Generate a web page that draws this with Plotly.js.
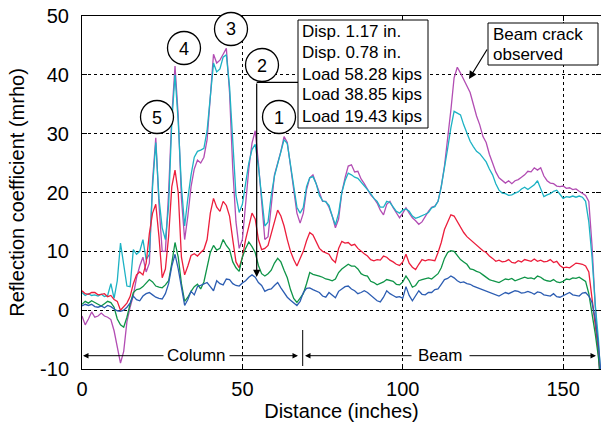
<!DOCTYPE html>
<html>
<head>
<meta charset="utf-8">
<script src="https://cdn.plot.ly/plotly-3.0.1.min.js"></script>
<style>html,body{margin:0;padding:0;background:#fff;}#chart{width:601px;height:433px;}</style>
</head>
<body>
<div id="chart"></div>
<script>
// Distance along the specimen (inches)
const distance = [0,1,2,3,4,5,6,7,8,9,10,11,12,13,14,15,16,17,18,19,20,21,22,23,24,25,26,27,28,29,30,31,32,33,34,35,36,37,38,39,40,41,42,43,44,45,46,47,48,49,50,51,52,53,54,55,56,57,58,59,60,61,62,63,64,65,66,67,68,69,70,71,72,73,74,75,76,77,78,79,80,81,82,83,84,85,86,87,88,89,90,91,92,93,94,95,96,97,98,99,100,101,102,103,104,105,106,107,108,109,110,111,112,113,114,115,116,117,118,119,120,121,122,123,124,125,126,127,128,129,130,131,132,133,134,135,136,137,138,139,140,141,142,143,144,145,146,147,148,149,150,151,152,153,154,155,156,157,158,159,160,161,162];

// Series (reflection coefficient, mrho)
const disp117 = [-1,-2.5,-1.5,-0.3,-1.2,-1,-0.5,-1,-1.2,-1.6,-3.5,-6.5,-9,-7,-2,0.5,2.5,5.5,7.5,9,6.5,8,22,29.3,18,10,10,20,33,41.5,33,19,12,16,21,24,25.5,25,26,29,36,43.5,42,42.5,43.5,44.5,37,24,15,10.5,12,18,24,28.4,30.5,25,17.7,12,12.5,18,23,25,27,29.5,28.5,24.5,20,16.5,14.8,16.5,20.5,22.5,23,21.5,20,18.5,18.5,17.5,16,14,15.5,20,22.5,24.5,24.7,23.5,23.6,22.3,21.5,20.5,19.6,19,18.2,17,16.2,18,18.5,17.4,16.5,15.7,16.5,17.4,16.5,15.7,15.2,14.6,15,16,16.8,17.5,17.7,18.5,21,24.5,29,34,39.5,41.3,40.3,39.2,38,37,35,33,31.5,29.5,28.5,26.5,25,23.5,22.5,22,21.6,22,21.5,22,22.2,22.6,23,23.6,23.5,24.2,23.8,24.2,22.8,22,21.6,21.5,21.1,21,21.1,20.7,20.8,20.5,20.6,20.2,19.9,19.5,18.5,11,0.7,-8,-16];
const disp078 = [3,2.5,2.8,2.5,2.6,2.4,2.7,2.3,2.5,4.5,2,5,11.4,7.5,4.1,4,10.3,9.5,10,12,8.6,9.5,21,28.5,19,14,12,17.7,32,40,32,21,14.3,19,23,26,27,27.2,27.5,30.5,36,42,40.5,41,43,43.4,38,28,19.5,16.6,18,21.5,25,27.3,28.2,24.4,19,14.3,15,19.5,22.8,25,27,29,28.3,24.5,20.5,17.5,16.5,17.5,21,22.5,22.7,21.5,19.5,18.6,18.4,17.8,16,14.5,16.5,20,22,23.3,23,22.6,22.4,21.8,21.2,20.5,19.8,19,18.5,17.5,17.5,18.5,18.3,17.6,16.8,16.5,17,17.2,16.8,16,15.6,15.8,16,16.3,16.6,17.4,17.6,18.5,21,24,27.5,31,33.8,33.5,33.2,31.5,30,28.7,27.8,27,26.6,25.8,25.2,24,23,21.5,20.4,19.9,19.8,19.5,19.6,19.9,20.1,20.6,20.9,20.5,20.9,21.3,22,20.5,19.3,19.6,19.8,20.2,20.4,19.7,19,19.3,19.2,19.4,19.2,19.4,19.2,18.5,15,9,1,-5,-14];
const load5828 = [3.3,2.8,2.7,3,3,2.6,2.7,2.8,2.3,2.5,1.8,1.5,0,0.6,1.2,2.3,4.5,6,6.5,6,8,13,16.5,18,12.5,5.5,7,12.5,21,23.8,20,9,6,7.5,9.3,9.6,9.2,9.8,10.3,12,16.5,19,17.5,16.8,18.5,17.8,16,12,8.2,7.2,9,12,14.5,16.5,15.5,12,10.3,10.5,11,13,15,17,16,14.3,12,10,8.6,7.5,8.8,10,11.8,13.2,12.8,11.5,10.5,10,9.8,9.5,8.6,8.1,10.5,11.7,11.4,11.5,11,11.2,10.5,10,9.6,9.2,8.6,8.4,8.6,8.5,9.2,9,8.5,8.2,7.8,7.6,8.2,9.5,8,7.3,6.9,7.8,8.6,8.4,8.6,8.5,8.4,9.8,11.5,13.7,15,16.2,16,15,14,13.2,12.5,12,11.5,11,10.6,10.1,9.8,9.2,8.8,8.3,8.5,8.2,8.3,8.6,8.1,8,8.4,8.2,8.6,8.4,8.3,8.7,8.3,8.5,8.2,8.3,8.6,8.1,8.3,7.6,7.2,7.3,7.2,7.6,8,7.9,7.8,7.5,6.5,2,-2.5,-7,-14];
const load3885 = [1,1.5,1.2,1.6,1.3,1,0.7,1.1,1.5,1.3,0.5,-1.5,-2.5,-2.9,-1.2,1,3,3.5,3.6,4,4.7,5.2,4.8,4.1,3.9,3.8,4.3,5,8,11.5,9,4.5,1.5,2.2,3.2,4,4.4,3.6,4.8,7.5,9.8,11,10.2,10.5,12,11,10.3,8.2,7.2,6.6,9,10.5,11.6,10.8,9.8,7.6,6.2,5.8,6.2,6.8,8,8.8,8.2,6.8,5.5,3.5,2,1.3,2,2.8,4.5,6.4,6.1,6,5.8,5.6,5.3,5.2,5,5.3,6.4,7,7.4,7.8,7.5,7.5,7,6.2,5.9,5.8,4.9,4.7,4.3,4.5,4.8,5.2,5,4.9,4.4,4.3,4.8,5.8,5,3.9,4.2,5,5.2,5.4,5.5,5.3,5.8,6.2,7.2,8.8,9.8,10.1,10,9.3,8.6,8.2,7.8,7,6.9,6.6,6.4,6,5.6,5.2,5,4.8,4.7,5,5.3,5.2,5.4,5,5.2,5.3,5.6,5.4,5.5,5.3,5.8,5.6,5.2,5,4.9,5.2,4.8,4.7,4.9,5.3,5.2,5.5,5.4,5.6,5.2,4.9,2.8,-0.5,-4,-8,-14];
const load1943 = [0.7,1,0.8,1,0.6,0.5,0.7,0.4,0.8,0.6,0.2,-0.1,-0.2,0,0.5,1.2,2.4,1.8,1.6,2.4,2.8,3,2.6,2.2,2,1.9,2.8,4.5,7.5,9.5,7,3.5,0.8,1.8,3.2,2.6,4,4.2,4.5,4.7,4,3.3,5,4.5,4.3,5.3,5.2,4.5,4.2,4.1,4.6,5,5.6,6,5.6,4.7,4.2,3.2,3.5,3.6,4.2,4.7,3.8,3,2.2,1.7,1.3,0.8,1.5,3,3.7,3.8,3.5,3.3,3,2.4,2.2,3,2.6,2.1,3.2,3.6,4,4.1,3.6,3.3,2.8,3,3.3,3,2.5,2,1.6,1.4,2.2,3.3,2.8,2.5,2.2,2.3,2,4,2.5,1.6,2.5,3.3,2.7,2.6,3,3,3.5,3.6,4.4,5.2,5.4,5.8,5.5,5,4.7,4.8,4.5,4.4,4.1,3.9,3.6,3.4,3.2,3,2.8,2.6,2.4,2.7,3,2.8,3.1,3.3,3.2,2.9,3,3.2,3,2.7,3.1,3,2.6,2.5,2.4,2.8,2.3,2.2,2.5,2.8,3,2.6,2.5,2.4,2.9,3,2.4,1.3,-1.5,-6,-12];

const seriesNames = ["Disp. 1.17 in.", "Disp. 0.78 in.", "Load 58.28 kips", "Load 38.85 kips", "Load 19.43 kips"];
const seriesColors = ["#b24db3", "#1cb2c4", "#ec1e3c", "#0e9447", "#2c5db2"];
const seriesValues = [disp117, disp078, load5828, load3885, load1943];
const xTicks = [0, 50, 100, 150];
const yTicks = [-10, 0, 10, 20, 30, 40, 50];
const peakLabels = ["5", "4", "3", "2", "1"];

const FONT = "Liberation Sans, Arial, Helvetica, sans-serif";

const traces = seriesValues.map((v, i) => ({
  type: "scatter", mode: "lines", x: distance, y: v, name: seriesNames[i],
  line: {color: seriesColors[i], width: 1.3}, showlegend: false, hoverinfo: "skip"
}));

// helpers: paper coordinates from pixel positions in the 601x433 frame
const L = 82, T = 16, W = 519, H = 353;
const px = p => (p - L) / W;
const py = p => (T + H - p) / H;

const shapes = [];
const annotations = [];

// legend-like text box
shapes.push({type: "rect", xref: "paper", yref: "paper", x0: px(298), x1: px(428), y0: py(128), y1: py(20),
  line: {color: "#000", width: 1}, fillcolor: "#fff", layer: "above"});
const legendY = [31.5, 53, 74, 95, 116];
seriesNames.forEach((n, i) => annotations.push({xref: "paper", yref: "paper", x: px(299.5), y: py(legendY[i]),
  xanchor: "left", yanchor: "middle", text: n, showarrow: false, font: {family: FONT, size: 17, color: "#000"}}));

// beam crack box
shapes.push({type: "rect", xref: "paper", yref: "paper", x0: px(488), x1: px(598), y0: py(65), y1: py(23),
  line: {color: "#000", width: 1}, fillcolor: "#fff", layer: "above"});
annotations.push({xref: "paper", yref: "paper", x: px(490.5), y: py(35), xanchor: "left", yanchor: "middle",
  text: "Beam crack", showarrow: false, font: {family: FONT, size: 17, color: "#000"}});
annotations.push({xref: "paper", yref: "paper", x: px(490.5), y: py(55), xanchor: "left", yanchor: "middle",
  text: "observed", showarrow: false, font: {family: FONT, size: 17, color: "#000"}});
annotations.push({xref: "paper", yref: "paper", x: px(469), y: py(79), text: "", showarrow: true,
  axref: "pixel", ayref: "pixel", ax: 19, ay: -31, arrowhead: 2, arrowsize: 1.3, arrowwidth: 1.2, arrowcolor: "#000"});

// numbered circles
const circ = [[157,117],[184,48],[231,29],[262,65],[279,117]];
circ.forEach((c, i) => {
  shapes.push({type: "circle", xref: "paper", yref: "paper", xsizemode: "pixel", ysizemode: "pixel",
    xanchor: px(c[0]), yanchor: py(c[1]), x0: -16.5, x1: 16.5, y0: -16.5, y1: 16.5,
    line: {color: "#000", width: 1.3}, fillcolor: "#fff", layer: "above"});
  annotations.push({xref: "paper", yref: "paper", x: px(c[0]), y: py(c[1] + 0.5), text: peakLabels[i],
    showarrow: false, xanchor: "center", yanchor: "middle", font: {family: FONT, size: 18, color: "#000"}});
});

// leader line from the legend box down to the blue curve
shapes.push({type: "line", xref: "paper", yref: "paper", x0: px(256.7), x1: px(298), y0: py(82.3), y1: py(82.3),
  line: {color: "#000", width: 1.2}, layer: "above"});
annotations.push({xref: "paper", yref: "paper", x: px(256.7), y: py(277), text: "", showarrow: true,
  axref: "pixel", ayref: "pixel", ax: 0, ay: -195, arrowhead: 2, arrowsize: 1.2, arrowwidth: 1.2, arrowcolor: "#000"});

// Column / Beam span arrows
const spanY = 355.7;
annotations.push({xref: "paper", yref: "paper", x: px(83), y: py(spanY), text: "", showarrow: true,
  axref: "pixel", ayref: "pixel", ax: 82, ay: 0, arrowhead: 2, arrowsize: 1.1, arrowwidth: 1, arrowcolor: "#000"});
annotations.push({xref: "paper", yref: "paper", x: px(298), y: py(spanY), text: "", showarrow: true,
  axref: "pixel", ayref: "pixel", ax: -70, ay: 0, arrowhead: 2, arrowsize: 1.1, arrowwidth: 1, arrowcolor: "#000"});
annotations.push({xref: "paper", yref: "paper", x: px(196), y: py(spanY), text: "Column", showarrow: false,
  xanchor: "center", yanchor: "middle", font: {family: FONT, size: 17, color: "#000"}});
shapes.push({type: "line", xref: "paper", yref: "paper", x0: px(302.7), x1: px(302.7), y0: py(366), y1: py(330),
  line: {color: "#000", width: 1}, layer: "above"});
annotations.push({xref: "paper", yref: "paper", x: px(305), y: py(spanY), text: "", showarrow: true,
  axref: "pixel", ayref: "pixel", ax: 108, ay: 0, arrowhead: 2, arrowsize: 1.1, arrowwidth: 1, arrowcolor: "#000"});
annotations.push({xref: "paper", yref: "paper", x: px(596), y: py(spanY), text: "", showarrow: true,
  axref: "pixel", ayref: "pixel", ax: -128, ay: 0, arrowhead: 2, arrowsize: 1.1, arrowwidth: 1, arrowcolor: "#000"});
annotations.push({xref: "paper", yref: "paper", x: px(440), y: py(spanY), text: "Beam", showarrow: false,
  xanchor: "center", yanchor: "middle", font: {family: FONT, size: 17, color: "#000"}});

const axisCommon = {
  showline: true, linecolor: "#000", linewidth: 1, mirror: "allticks",
  ticks: "inside", ticklen: 5, tickcolor: "#000", tickwidth: 1,
  showgrid: true, gridcolor: "#000", gridwidth: 1, griddash: "dot",
  zeroline: false, tickfont: {family: FONT, size: 20, color: "#000"}
};

const layout = {
  width: 601, height: 433,
  margin: {l: L, r: 601 - L - W, t: T, b: 433 - T - H, pad: 0},
  paper_bgcolor: "#fff", plot_bgcolor: "#fff",
  showlegend: false,
  xaxis: Object.assign({}, axisCommon, {
    range: [0, 161.8], tickvals: xTicks, ticktext: xTicks.map(String), ticklabelstandoff: 2,
    title: {text: "Distance (inches)", font: {family: FONT, size: 20, color: "#000"}, standoff: 4}
  }),
  yaxis: Object.assign({}, axisCommon, {
    range: [-10, 50], tickvals: yTicks, ticktext: yTicks.map(String), ticklabelstandoff: 8,
    title: {text: "Reflection coefficient (mrho)", font: {family: FONT, size: 20, color: "#000"}, standoff: 10}
  }),
  shapes: shapes,
  annotations: annotations
};

Plotly.newPlot("chart", traces, layout, {displayModeBar: false, staticPlot: true});
</script>
</body>
</html>
